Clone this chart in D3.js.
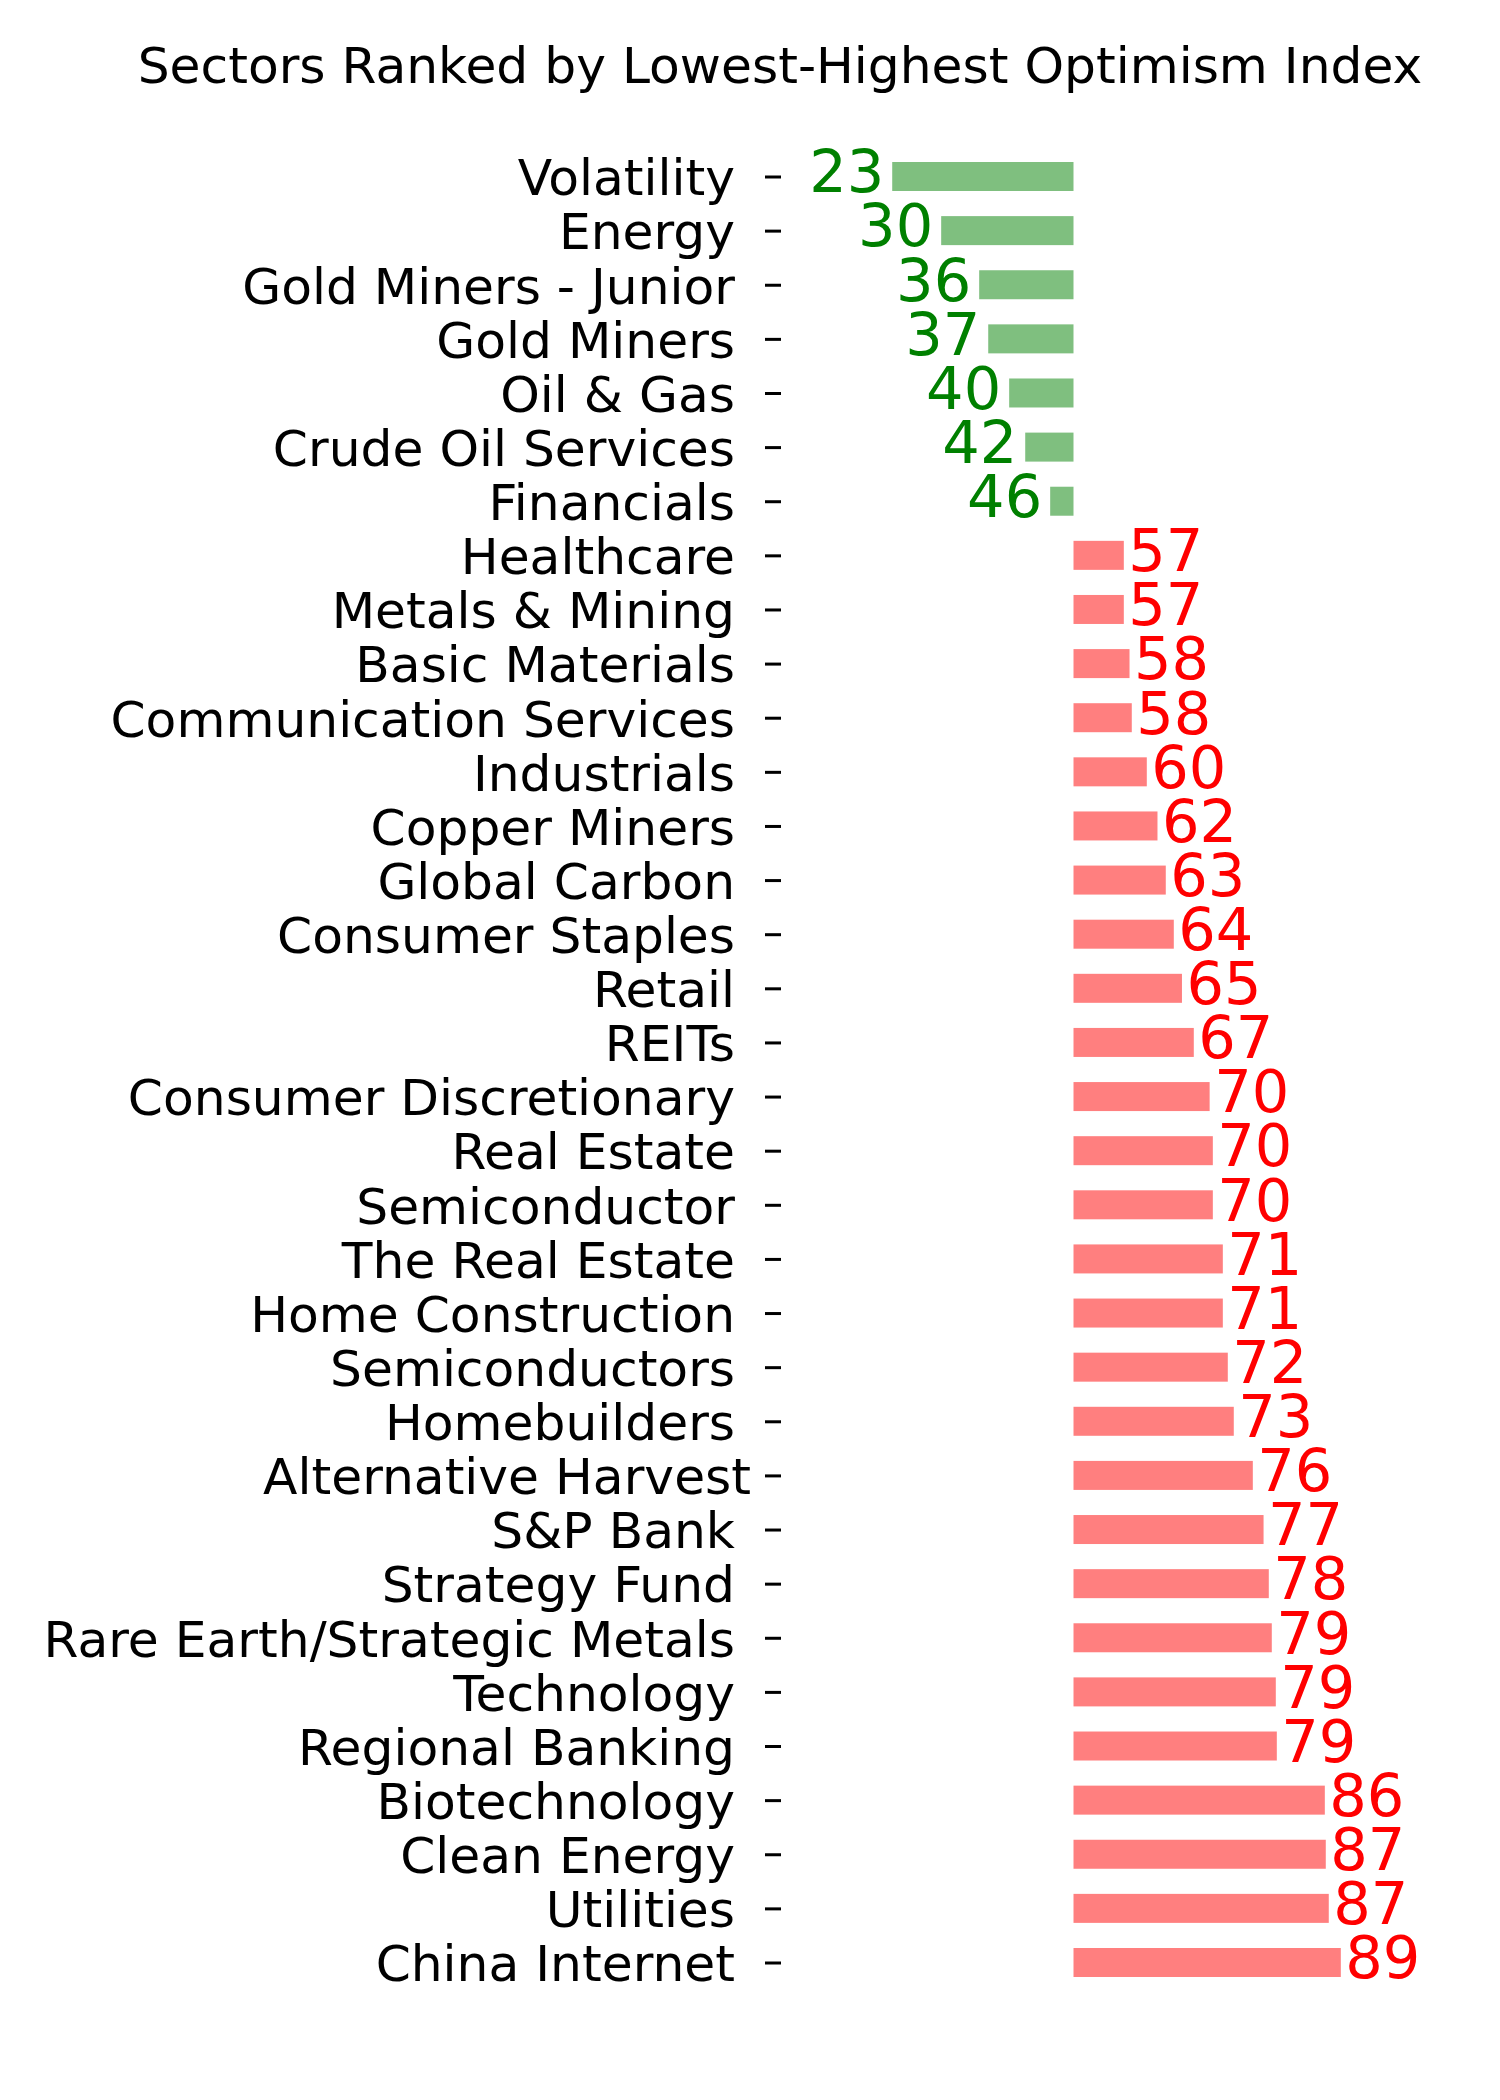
<!DOCTYPE html>
<html>
<head>
<meta charset="utf-8">
<script src="https://cdn.jsdelivr.net/npm/d3@7"></script>
<style>
  body { margin: 0; background: #fff; }
  svg { display: block; font-family: "DejaVu Sans", sans-serif; }
  .tick text { white-space: pre; }
</style>
</head>
<body>
<div id="chart"></div>
<script>
"use strict";

var title = "Sectors Ranked by Lowest-Highest Optimism Index";

var sectors = [
  "Volatility", "Energy", "Gold Miners - Junior", "Gold Miners", "Oil & Gas",
  "Crude Oil Services", "Financials", "Healthcare", "Metals & Mining",
  "Basic Materials", "Communication Services", "Industrials", "Copper Miners",
  "Global Carbon", "Consumer Staples", "Retail", "REITs",
  "Consumer Discretionary", "Real Estate", "Semiconductor", "The Real Estate",
  "Home Construction", "Semiconductors", "Homebuilders", "Alternative Harvest",
  "S&P Bank", "Strategy Fund", "Rare Earth/Strategic Metals", "Technology",
  "Regional Banking", "Biotechnology", "Clean Energy", "Utilities", "China Internet"
];

var optimism = [
  23.34, 30.54, 36.13, 37.46, 40.54,
  42.90, 46.57, 57.40, 57.40,
  58.24, 58.57, 60.78, 62.35,
  63.57, 64.75, 65.95, 67.69,
  70.02, 70.49, 70.49, 71.96,
  71.96, 72.69, 73.57, 76.37,
  77.95, 78.72, 79.16, 79.75,
  79.90, 86.96, 87.10, 87.54, 89.31
];

// labels in the source carry a trailing space, except this one
var unpadded = ["Alternative Harvest"];

var neutral = 50;

var width = 1500, height = 2100;
var svg = d3.select("#chart").append("svg")
  .attr("width", width)
  .attr("height", height);

svg.append("rect").attr("width", width).attr("height", height).attr("fill", "#fff");

var x = d3.scaleLinear().domain([0, 100]).range([733.5, 1413.5]);
var y = d3.scalePoint().domain(sectors).range([176.5, 1962.5]);
var barH = 29;

var data = sectors.map(function(s, i) {
  return {name: s, v: optimism[i]};
});

// title
svg.append("text")
  .attr("x", 780)
  .attr("y", 82.7)
  .attr("text-anchor", "middle")
  .attr("font-size", 50.3)
  .attr("fill", "#000")
  .text(title);

// y axis: just ticks and labels
var axis = svg.append("g")
  .attr("transform", "translate(781,0)")
  .call(d3.axisLeft(y)
    .tickSize(16)
    .tickPadding(14)
    .tickFormat(function(d) {
      return unpadded.indexOf(d) >= 0 ? d : d + " ";
    }));

axis.select(".domain").remove();
axis.selectAll(".tick line").attr("stroke", "#000").attr("stroke-width", 3);
axis.selectAll(".tick text")
  .attr("font-size", 50.3)
  .attr("font-family", "DejaVu Sans, sans-serif")
  .attr("fill", "#000")
  .attr("dy", "0.364em");

// bars
svg.selectAll("rect.bar")
  .data(data)
  .enter()
  .append("rect")
    .attr("class", "bar")
    .attr("x", function(d) { return x(Math.min(d.v, neutral)); })
    .attr("y", function(d) { return y(d.name) - barH / 2; })
    .attr("width", function(d) { return Math.abs(x(d.v) - x(neutral)); })
    .attr("height", barH)
    .attr("fill", function(d) { return d.v < neutral ? "green" : "red"; })
    .attr("fill-opacity", 0.5);

// value labels
svg.selectAll("text.val")
  .data(data)
  .enter()
  .append("text")
    .attr("class", "val")
    .attr("x", function(d) { return d.v < neutral ? x(d.v) - 8 : x(d.v) + 4.5; })
    .attr("y", function(d) { return y(d.name) + 15.8; })
    .attr("text-anchor", function(d) { return d.v < neutral ? "end" : "start"; })
    .attr("font-size", 59)
    .attr("fill", function(d) { return d.v < neutral ? "green" : "red"; })
    .text(function(d) { return Math.floor(d.v); });
</script>
</body>
</html>
